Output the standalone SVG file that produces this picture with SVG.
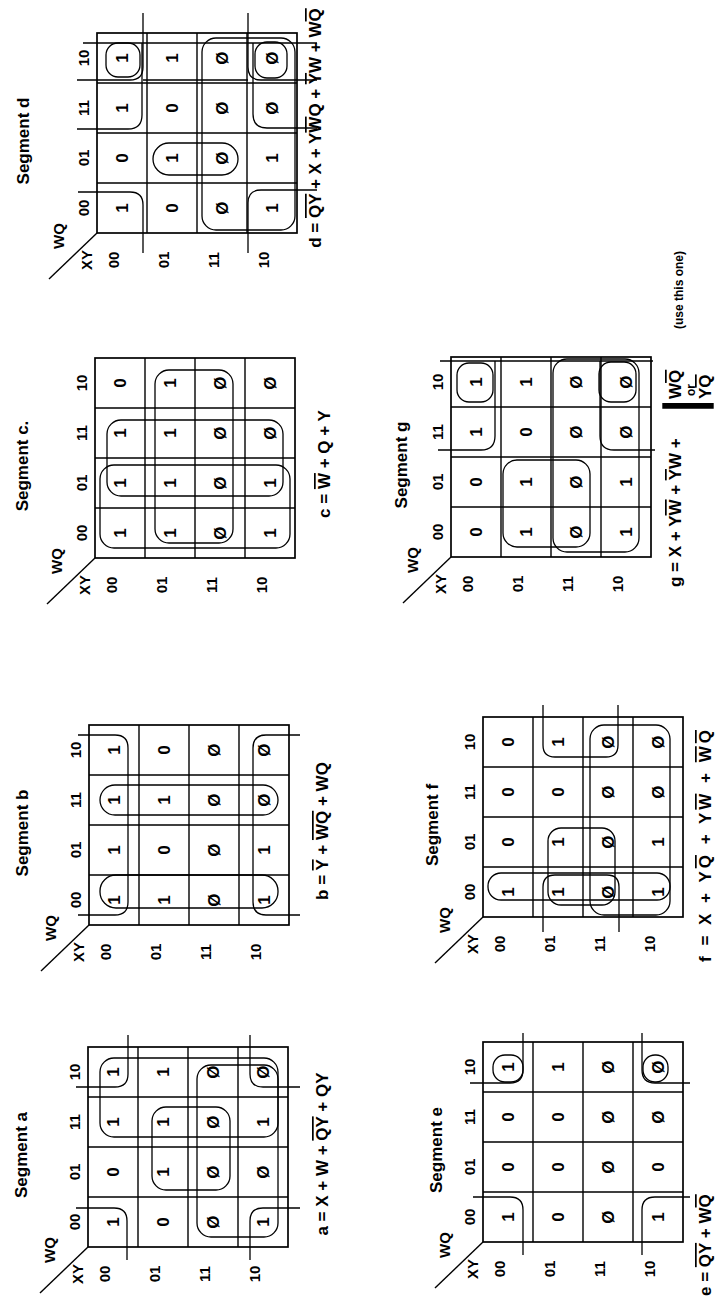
<svg xmlns="http://www.w3.org/2000/svg" width="718" height="1301" viewBox="0 0 718 1301">
<style>
text{font-family:"Liberation Sans",Arial,sans-serif;font-weight:bold;fill:#000}
.v{font-size:17px;text-anchor:middle}
.h{font-size:15px;text-anchor:middle}
.ttl{font-size:17px;text-anchor:middle}
.eq{font-size:17px}
.sm{font-size:12px}
.ob{text-decoration:overline}
.grid{fill:none;stroke:#000;stroke-width:1.7}
.gl{stroke:#000;stroke-width:1.4}
.loop{fill:none;stroke:#000;stroke-width:1.3}
</style>
<defs>
<g id="frame">
<rect class="grid" x="0" y="0" width="200" height="200"/>
<path class="gl" d="M50 0V200M100 0V200M150 0V200M0 50H200M0 100H200M0 150H200"/>
<path class="gl" d="M0 0L-46 -48"/>
<text class="h" x="-3" y="-33">WQ</text>
<text class="h" x="-27" y="-5">XY</text>
<text class="h" x="25" y="-8">00</text><text class="h" x="75" y="-8">01</text><text class="h" x="125" y="-8">11</text><text class="h" x="175" y="-8">10</text>
<text class="h" x="-27" y="22">00</text><text class="h" x="-27" y="72">01</text><text class="h" x="-27" y="122">11</text><text class="h" x="-27" y="172">10</text>
<text class="v" x="25" y="131">Ø</text><text class="v" x="75" y="131">Ø</text><text class="v" x="125" y="131">Ø</text><text class="v" x="175" y="131">Ø</text>
</g>
</defs>

<g id="map-a" transform="translate(88,1247) rotate(-90)">
<use href="#frame"/>
<text class="ttl" x="92" y="-61">Segment a</text>
<text class="v" x="25" y="31">1</text><text class="v" x="75" y="31">0</text><text class="v" x="125" y="31">1</text><text class="v" x="175" y="31">1</text>
<text class="v" x="25" y="81">0</text><text class="v" x="75" y="81">1</text><text class="v" x="125" y="81">1</text><text class="v" x="175" y="81">1</text>
<text class="v" x="25" y="181">1</text><text class="v" x="75" y="181">Ø</text><text class="v" x="125" y="181">1</text><text class="v" x="175" y="181">Ø</text>
<g class="loops">
<rect class="loop" x="110" y="12" width="79" height="178" rx="14"/>
<rect class="loop" x="10" y="109" width="172" height="81" rx="14"/>
<rect class="loop" x="57" y="64" width="83" height="78" rx="14"/>
<path class="loop" d="M160 -12L160 27Q160 40 173 40L212 40M212 162L173 162Q160 162 160 175L160 212M39 -12L39 26Q39 39 26 39L-13 39M39 212L39 175Q39 162 26 162L-13 162"/>
</g>
<text class="eq" x="93" y="240" text-anchor="middle">a = X + W + <tspan class="ob">QY</tspan> + QY</text>
</g>

<g id="map-b" transform="translate(89,925) rotate(-90)">
<use href="#frame"/>
<text class="ttl" x="92" y="-61">Segment b</text>
<text class="v" x="25" y="31">1</text><text class="v" x="75" y="31">1</text><text class="v" x="125" y="31">1</text><text class="v" x="175" y="31">1</text>
<text class="v" x="25" y="81">1</text><text class="v" x="75" y="81">0</text><text class="v" x="125" y="81">1</text><text class="v" x="175" y="81">0</text>
<text class="v" x="25" y="181">1</text><text class="v" x="75" y="181">1</text><text class="v" x="125" y="181">Ø</text><text class="v" x="175" y="181">Ø</text>
<g class="loops">
<rect class="loop" x="110" y="11" width="30" height="178" rx="15"/>
<rect class="loop" x="17" y="11" width="33" height="178" rx="16"/>
<path class="loop" d="M190 -11L190 26Q190 39 177 39L23 39Q10 39 10 26L10 -11M190 211L190 177Q190 164 177 164L23 164Q10 164 10 177L10 211"/>
</g>
<text class="eq" x="94" y="239" text-anchor="middle">b = <tspan class="ob">Y</tspan> + <tspan class="ob">WQ</tspan> + WQ</text>
</g>

<g id="map-c" transform="translate(95,558) rotate(-90)">
<use href="#frame"/>
<text class="ttl" x="92" y="-67">Segment c.</text>
<text class="v" x="25" y="31">1</text><text class="v" x="75" y="31">1</text><text class="v" x="125" y="31">1</text><text class="v" x="175" y="31">0</text>
<text class="v" x="25" y="81">1</text><text class="v" x="75" y="81">1</text><text class="v" x="125" y="81">1</text><text class="v" x="175" y="81">1</text>
<text class="v" x="25" y="181">1</text><text class="v" x="75" y="181">1</text><text class="v" x="125" y="181">Ø</text><text class="v" x="175" y="181">Ø</text>
<g class="loops">
<rect class="loop" x="15" y="60" width="173" height="78" rx="14"/>
<rect class="loop" x="62" y="12" width="76" height="176" rx="14"/>
<rect class="loop" x="10" y="5" width="83" height="190" rx="14"/>
</g>
<text class="eq" x="94" y="235" text-anchor="middle">c = <tspan class="ob">W</tspan> + Q + Y</text>
</g>

<g id="map-d" transform="translate(97,233) rotate(-90)">
<use href="#frame"/>
<text class="ttl" x="92" y="-68">Segment d</text>
<text class="v" x="25" y="31">1</text><text class="v" x="75" y="31">0</text><text class="v" x="125" y="31">1</text><text class="v" x="175" y="31">1</text>
<text class="v" x="25" y="81">0</text><text class="v" x="75" y="81">1</text><text class="v" x="125" y="81">0</text><text class="v" x="175" y="81">1</text>
<text class="v" x="25" y="181">1</text><text class="v" x="75" y="181">1</text><text class="v" x="125" y="181">Ø</text><text class="v" x="175" y="181">Ø</text>
<g class="loops">
<path class="loop" d="M41 -19L41 33Q41 46 28 46L-20 46M153 -20L153 33Q153 46 166 46L220 46M220 151L166 151Q153 151 153 164L153 220M-20 151L30 151Q43 151 43 164L43 220"/>
<rect class="loop" x="3" y="105" width="192" height="93" rx="14"/>
<rect class="loop" x="58" y="56" width="32" height="85" rx="16"/>
<path class="loop" d="M104 -20L104 31Q104 45 118 45L190 45M105 220L105 170Q105 156 119 156L190 156M190 -14L190 220M153 46L153 151"/>
<rect class="loop" x="156" y="9" width="34" height="34" rx="12"/>
<rect class="loop" x="155" y="158" width="36" height="32" rx="12"/>
</g>
<text class="eq" x="105" y="224" text-anchor="middle">d = <tspan class="ob">QY</tspan> + X + Y<tspan class="ob">W</tspan>Q + <tspan class="ob">Y</tspan>W + W<tspan class="ob">Q</tspan></text>
</g>

<g id="map-e" transform="translate(483,1242) rotate(-90)">
<use href="#frame"/>
<text class="ttl" x="92" y="-41">Segment e</text>
<text class="v" x="25" y="31">1</text><text class="v" x="75" y="31">0</text><text class="v" x="125" y="31">0</text><text class="v" x="175" y="31">1</text>
<text class="v" x="25" y="81">0</text><text class="v" x="75" y="81">0</text><text class="v" x="125" y="81">0</text><text class="v" x="175" y="81">1</text>
<text class="v" x="25" y="181">1</text><text class="v" x="75" y="181">0</text><text class="v" x="125" y="181">Ø</text><text class="v" x="175" y="181">Ø</text>
<g class="loops">
<path class="loop" d="M159 -13L159 27Q159 40 172 40L209 40M209 159L172 159Q159 159 159 172L159 207M45 -10L45 27Q45 40 32 40L-13 40M45 207L45 172Q45 159 32 159L-13 159"/>
<rect class="loop" x="160" y="10" width="27" height="30" rx="12"/>
<rect class="loop" x="160" y="160" width="27" height="25" rx="12"/>
</g>
<text class="eq" x="-54" y="228">e = <tspan class="ob">QY</tspan> + W<tspan class="ob">Q</tspan></text>
</g>

<g id="map-f" transform="translate(483,917) rotate(-90)">
<use href="#frame"/>
<text class="ttl" x="92" y="-45">Segment f</text>
<text class="v" x="25" y="31">1</text><text class="v" x="75" y="31">0</text><text class="v" x="125" y="31">0</text><text class="v" x="175" y="31">0</text>
<text class="v" x="25" y="81">1</text><text class="v" x="75" y="81">1</text><text class="v" x="125" y="81">0</text><text class="v" x="175" y="81">1</text>
<text class="v" x="25" y="181">1</text><text class="v" x="75" y="181">1</text><text class="v" x="125" y="181">Ø</text><text class="v" x="175" y="181">Ø</text>
<g class="loops">
<rect class="loop" x="17" y="5" width="27" height="182" rx="13"/>
<rect class="loop" x="12" y="65" width="77" height="67" rx="13"/>
<path class="loop" d="M212 60L172 60Q160 60 160 72L160 123Q160 135 172 135L212 135M-15 60L30 60Q42 60 42 72L42 124Q42 136 30 136L-15 136"/>
<rect class="loop" x="2" y="107" width="190" height="80" rx="14"/>
</g>
<text class="eq" x="-45" y="228" textLength="232" lengthAdjust="spacing">f = X + Y<tspan class="ob">Q</tspan> + Y<tspan class="ob">W</tspan> + <tspan class="ob">WQ</tspan></text>
</g>

<g id="map-g" transform="translate(451,557) rotate(-90)">
<use href="#frame"/>
<text class="ttl" x="92" y="-44">Segment g</text>
<text class="v" x="25" y="31">0</text><text class="v" x="75" y="31">0</text><text class="v" x="125" y="31">1</text><text class="v" x="175" y="31">1</text>
<text class="v" x="25" y="81">1</text><text class="v" x="75" y="81">1</text><text class="v" x="125" y="81">0</text><text class="v" x="175" y="81">1</text>
<text class="v" x="25" y="181">1</text><text class="v" x="75" y="181">1</text><text class="v" x="125" y="181">Ø</text><text class="v" x="175" y="181">Ø</text>
<g class="loops">
<rect class="loop" x="5" y="102" width="193" height="86" rx="14"/>
<rect class="loop" x="10" y="52" width="87" height="87" rx="14"/>
<path class="loop" d="M196 -11L196 202M107 -13L107 30Q107 44 121 44L196 44M107 204L107 163Q107 149 121 149L196 149"/>
<rect class="loop" x="155" y="6" width="39" height="36" rx="12"/>
<rect class="loop" x="155" y="148" width="40" height="37" rx="12"/>
</g>
<text class="eq" x="-30" y="230">g = X + Y<tspan class="ob">W</tspan> + <tspan class="ob">Y</tspan>W +</text>
<path class="gl" d="M154 212L149 212L149 262L154 262"/>
<text class="eq" x="158" y="230">W<tspan class="ob">Q</tspan></text>
<text class="sm" x="161" y="244">or</text>
<text class="eq" x="158" y="260">Y<tspan class="ob">Q</tspan></text>
<text class="sm" x="228" y="232">(use this one)</text>
</g>
</svg>
